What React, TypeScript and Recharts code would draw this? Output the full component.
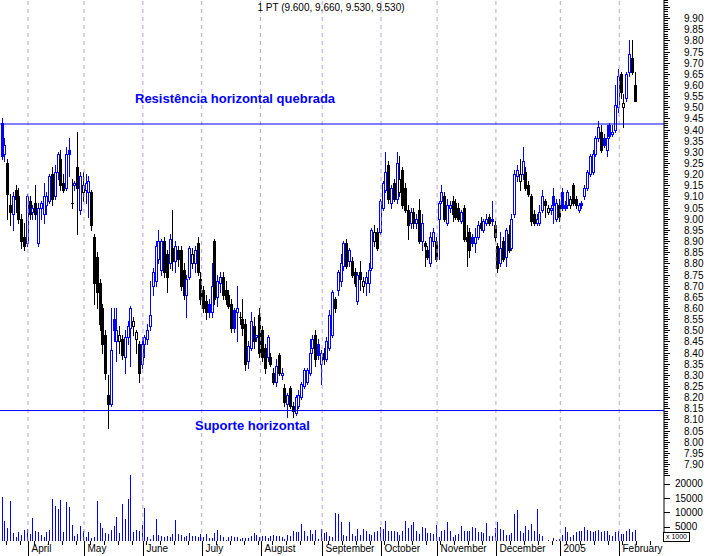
import React from "react";
import { ComposedChart, Bar, XAxis, YAxis, ReferenceLine } from "recharts";

// open, high, low, close
type Candle = [number, number, number, number];

const march: Candle[] = [
  [9.43, 9.45, 9.27, 9.28], [9.29, 9.36, 9.26, 9.33], [9.25, 9.27, 9.0, 9.11], [9.06, 9.11, 8.97, 9.03],
  [9.02, 9.12, 8.95, 9.1], [9.13, 9.15, 9.03, 9.09], [9.1, 9.14, 8.98, 9.0], [9.0, 9.02, 8.87, 8.9],
  [8.92, 8.98, 8.86, 8.88], [8.89, 9.11, 8.88, 9.1],
];
const april: Candle[] = [
  [9.08, 9.1, 9.0, 9.02], [9.03, 9.06, 9.0, 9.05], [9.07, 9.15, 9.0, 9.02], [8.89, 9.07, 8.88, 9.05],
  [9.05, 9.08, 9.0, 9.07], [9.02, 9.16, 8.98, 9.1], [9.06, 9.12, 9.02, 9.1], [9.08, 9.2, 9.07, 9.19],
  [9.2, 9.23, 9.06, 9.09], [9.1, 9.24, 9.09, 9.21], [9.21, 9.3, 9.18, 9.29], [9.27, 9.31, 9.13, 9.15],
  [9.16, 9.2, 9.12, 9.13], [9.14, 9.32, 9.13, 9.29], [9.31, 9.36, 9.19, 9.29], [9.07, 9.18, 9.05, 9.07],
  [9.15, 9.17, 9.13, 9.16], [9.23, 9.39, 8.93, 9.14], [9.04, 9.21, 9.02, 9.19], [9.12, 9.21, 9.08, 9.15],
];
const may: Candle[] = [
  [9.13, 9.2, 9.07, 9.16], [9.12, 9.19, 9.01, 9.17], [9.12, 9.13, 8.95, 8.97], [8.92, 8.93, 8.62, 8.71],
  [8.83, 8.85, 8.6, 8.67], [8.71, 8.73, 8.5, 8.53], [8.6, 8.62, 8.4, 8.44], [8.48, 8.5, 8.28, 8.31],
  [8.21, 8.3, 8.06, 8.17], [8.17, 8.6, 8.16, 8.41], [8.55, 8.6, 8.45, 8.5], [8.45, 8.6, 8.36, 8.5],
  [8.45, 8.52, 8.4, 8.48], [8.46, 8.48, 8.37, 8.39], [8.38, 8.5, 8.31, 8.47], [8.47, 8.54, 8.44, 8.52],
  [8.51, 8.61, 8.34, 8.6], [8.52, 8.56, 8.48, 8.54], [8.46, 8.5, 8.4, 8.49], [8.44, 8.45, 8.27, 8.31],
  [8.35, 8.47, 8.33, 8.44],
];
const june: Candle[] = [
  [8.44, 8.48, 8.38, 8.47], [8.46, 8.53, 8.44, 8.5], [8.52, 8.72, 8.5, 8.57], [8.7, 8.78, 8.66, 8.76],
  [8.72, 8.9, 8.7, 8.88], [8.82, 8.95, 8.8, 8.9], [8.77, 8.91, 8.75, 8.9], [8.9, 8.92, 8.74, 8.76],
  [8.84, 8.86, 8.67, 8.74], [8.8, 8.93, 8.78, 8.91], [8.87, 9.04, 8.77, 8.81], [8.81, 8.9, 8.76, 8.88],
  [8.86, 8.88, 8.79, 8.82], [8.86, 8.88, 8.68, 8.7], [8.77, 8.8, 8.64, 8.66], [8.66, 8.75, 8.56, 8.73],
  [8.74, 8.88, 8.73, 8.87], [8.8, 8.87, 8.78, 8.84], [8.8, 8.88, 8.76, 8.86], [8.89, 8.92, 8.75, 8.76],
  [8.73, 8.76, 8.62, 8.64],
];
const july: Candle[] = [
  [8.68, 8.7, 8.58, 8.6], [8.63, 8.66, 8.55, 8.58], [8.62, 8.64, 8.56, 8.58], [8.58, 8.8, 8.56, 8.7],
  [8.9, 8.91, 8.62, 8.64], [8.65, 8.75, 8.61, 8.72], [8.71, 8.76, 8.67, 8.74], [8.74, 8.76, 8.64, 8.66],
  [8.68, 8.72, 8.62, 8.64], [8.66, 8.68, 8.6, 8.61], [8.62, 8.64, 8.49, 8.51], [8.59, 8.6, 8.49, 8.51],
  [8.58, 8.7, 8.45, 8.6], [8.56, 8.58, 8.53, 8.56], [8.55, 8.64, 8.48, 8.51], [8.53, 8.55, 8.32, 8.35],
  [8.36, 8.45, 8.33, 8.43], [8.42, 8.58, 8.41, 8.54], [8.52, 8.56, 8.42, 8.45], [8.47, 8.48, 8.45, 8.48],
  [8.57, 8.6, 8.38, 8.4],
];
const august: Candle[] = [
  [8.5, 8.52, 8.36, 8.38], [8.42, 8.44, 8.31, 8.33], [8.38, 8.48, 8.36, 8.47], [8.38, 8.4, 8.34, 8.35],
  [8.31, 8.33, 8.26, 8.27], [8.27, 8.37, 8.25, 8.34], [8.39, 8.4, 8.3, 8.31], [8.3, 8.33, 8.28, 8.31],
  [8.24, 8.26, 8.16, 8.18], [8.17, 8.22, 8.11, 8.21], [8.24, 8.25, 8.15, 8.16], [8.16, 8.18, 8.11, 8.14],
  [8.13, 8.21, 8.12, 8.2], [8.16, 8.23, 8.15, 8.21], [8.2, 8.27, 8.19, 8.26], [8.25, 8.33, 8.24, 8.32],
  [8.27, 8.33, 8.26, 8.32], [8.31, 8.46, 8.3, 8.4], [8.42, 8.48, 8.4, 8.46], [8.48, 8.5, 8.34, 8.37],
  [8.44, 8.46, 8.37, 8.39], [8.35, 8.41, 8.26, 8.4],
];
const september: Candle[] = [
  [8.4, 8.42, 8.35, 8.37], [8.37, 8.47, 8.36, 8.45], [8.42, 8.59, 8.41, 8.57], [8.48, 8.68, 8.47, 8.67],
  [8.64, 8.65, 8.58, 8.6], [8.68, 8.77, 8.66, 8.76], [8.72, 8.84, 8.7, 8.8], [8.79, 8.9, 8.77, 8.89],
  [8.89, 8.91, 8.78, 8.79], [8.81, 8.87, 8.79, 8.86], [8.81, 8.83, 8.74, 8.75], [8.76, 8.78, 8.7, 8.71],
  [8.63, 8.76, 8.62, 8.75], [8.76, 8.81, 8.68, 8.73], [8.7, 8.74, 8.67, 8.72], [8.71, 8.76, 8.66, 8.74],
  [8.71, 8.8, 8.67, 8.77], [8.78, 8.96, 8.77, 8.95], [8.9, 8.97, 8.88, 8.94], [8.94, 8.96, 8.86, 8.87],
  [8.94, 9.09, 8.93, 9.08],
];
const october: Candle[] = [
  [9.05, 9.17, 9.04, 9.16], [9.13, 9.3, 9.12, 9.21], [9.24, 9.26, 9.07, 9.09], [9.07, 9.15, 9.05, 9.14],
  [9.16, 9.18, 9.08, 9.09], [9.09, 9.3, 9.07, 9.25], [9.12, 9.28, 9.1, 9.18], [9.22, 9.23, 9.05, 9.06],
  [9.14, 9.16, 9.03, 9.04], [9.04, 9.06, 8.91, 8.97], [8.98, 9.05, 8.96, 9.03], [9.03, 9.05, 8.96, 8.98],
  [8.98, 9.02, 8.96, 9.0], [9.04, 9.09, 8.89, 8.9], [8.9, 9.02, 8.86, 8.98], [8.89, 8.9, 8.79, 8.88],
  [8.86, 8.88, 8.82, 8.83], [8.8, 8.94, 8.79, 8.92], [8.9, 8.96, 8.88, 8.94], [8.9, 8.92, 8.81, 8.82],
];
const november: Candle[] = [
  [9.0, 9.08, 8.82, 9.07], [9.08, 9.15, 9.07, 9.12], [9.1, 9.12, 8.99, 9.0], [8.98, 9.09, 8.97, 9.06],
  [9.05, 9.08, 9.03, 9.06], [9.08, 9.1, 8.99, 9.02], [9.07, 9.09, 9.0, 9.01], [9.05, 9.07, 8.99, 9.0],
  [8.99, 9.04, 8.98, 9.03], [9.05, 9.06, 8.9, 8.91], [8.92, 8.97, 8.79, 8.9], [8.94, 8.96, 8.83, 8.86],
  [8.92, 8.93, 8.88, 8.89], [8.89, 8.96, 8.85, 8.92], [8.92, 8.99, 8.91, 8.97], [8.98, 9.01, 8.95, 8.96],
  [8.95, 9.0, 8.94, 8.99], [8.98, 9.02, 8.97, 9.0], [9.01, 9.02, 8.97, 8.98], [9.0, 9.08, 8.97, 8.99],
  [8.97, 8.99, 8.9, 8.92],
];
const december: Candle[] = [
  [8.88, 8.89, 8.76, 8.78], [8.8, 8.94, 8.79, 8.87], [8.9, 8.92, 8.81, 8.82], [8.83, 8.96, 8.79, 8.95],
  [8.93, 8.97, 8.85, 8.86], [8.87, 9.02, 8.86, 9.0], [9.02, 9.22, 9.01, 9.2], [9.19, 9.24, 9.17, 9.22],
  [9.17, 9.27, 9.13, 9.2], [9.2, 9.32, 9.18, 9.26], [9.21, 9.23, 9.13, 9.14], [9.15, 9.17, 9.1, 9.11],
  [9.1, 9.11, 8.97, 8.99], [9.02, 9.04, 8.97, 8.98], [8.98, 9.02, 8.97, 9.0], [8.98, 9.06, 8.97, 9.03],
  [9.04, 9.13, 9.03, 9.1], [9.08, 9.09, 9.01, 9.06], [9.03, 9.06, 9.02, 9.05], [9.04, 9.06, 9.02, 9.05],
  [9.1, 9.14, 8.98, 9.06], [9.0, 9.09, 8.99, 9.07], [9.06, 9.09, 8.99, 9.01],
];
const january: Candle[] = [
  [9.12, 9.14, 9.04, 9.05], [9.06, 9.08, 9.04, 9.05], [9.06, 9.13, 9.05, 9.12], [9.06, 9.1, 9.05, 9.09],
  [9.15, 9.16, 9.06, 9.07], [9.09, 9.1, 9.05, 9.06], [9.04, 9.07, 9.03, 9.06], [9.07, 9.08, 9.05, 9.06],
  [9.1, 9.15, 9.09, 9.14], [9.14, 9.22, 9.13, 9.21], [9.2, 9.29, 9.19, 9.28], [9.21, 9.31, 9.2, 9.29],
  [9.29, 9.37, 9.28, 9.36], [9.36, 9.44, 9.35, 9.41], [9.39, 9.42, 9.3, 9.31], [9.36, 9.38, 9.32, 9.33],
  [9.31, 9.42, 9.28, 9.36], [9.42, 9.43, 9.36, 9.37], [9.38, 9.42, 9.37, 9.39], [9.4, 9.6, 9.39, 9.51],
  [9.5, 9.67, 9.48, 9.64],
];
const february: Candle[] = [
  [9.65, 9.66, 9.54, 9.57], [9.5, 9.56, 9.41, 9.52], [9.54, 9.66, 9.53, 9.65], [9.66, 9.8, 9.64, 9.74],
  [9.72, 9.8, 9.65, 9.66], [9.6, 9.66, 9.53, 9.53],
];

// volume, thousands of shares
const marchVol = [15.4, 7.0, 4.7, 14.0, 2.9, 1.4, 3.2, 2.1, 3.9, 4.3];
const aprilVol = [2.6, 8.1, 3.5, 3.2, 2.1, 1.4, 3.2, 3.9, 14.7, 12.4, 11.2, 14.4, 3.2, 13.7, 11.9, 5.6, 1.8, 2.6, 5.3, 3.5];
const mayVol = [1.4, 3.2, 1.2, 1.4, 14.0, 6.3, 4.6, 2.8, 2.6, 3.7, 5.3, 8.4, 2.8, 13.0, 7.8, 14.7, 23.2, 3.2, 3.9, 3.5, 5.6];
const juneVol = [11.6, 1.4, 0.7, 2.1, 7.7, 2.1, 1.8, 1.4, 1.8, 1.4, 2.5, 7.4, 2.5, 2.1, 1.4, 1.8, 2.8, 1.8, 1.8, 1.4, 2.5];
const julyVol = [1.4, 2.5, 1.1, 1.1, 2.8, 3.9, 2.1, 1.4, 0.4, 1.4, 1.8, 1.4, 1.4, 0.7, 1.1, 1.1, 1.1, 1.8, 2.8, 2.1, 1.4];
const augustVol = [1.8, 1.8, 1.1, 1.8, 2.1, 1.8, 1.8, 1.4, 0.7, 2.1, 1.8, 3.5, 3.2, 3.2, 6.0, 3.5, 1.8, 3.9, 2.5, 3.9, 0.7, 4.2];
const septemberVol = [2.8, 3.2, 1.8, 1.4, 9.8, 9.5, 6.7, 2.1, 1.8, 6.7, 2.5, 1.8, 4.2, 2.1, 4.2, 3.5, 2.5, 2.1, 3.2, 3.5, 4.9];
const octoberVol = [4.2, 7.0, 3.5, 3.5, 3.5, 3.2, 2.1, 3.5, 7.0, 4.6, 5.6, 6.7, 3.5, 2.5, 4.9, 4.6, 2.8, 2.8, 2.5, 5.6];
const novemberVol = [1.4, 3.5, 3.9, 6.7, 3.5, 1.4, 2.1, 2.5, 5.3, 3.5, 3.5, 3.5, 4.9, 4.6, 3.2, 3.2, 2.8, 6.3, 1.8, 1.8, 4.6];
const decemberVol = [6.7, 4.2, 3.9, 2.1, 2.1, 2.8, 9.5, 10.9, 3.5, 2.8, 5.3, 3.9, 6.0, 3.5, 11.2, 2.5, 1.8, 0.1, 0.4, 0.1, 1.1, 0.4, 0.7];
const januaryVol = [2.1, 4.9, 3.2, 1.4, 2.1, 3.2, 3.5, 3.5, 4.9, 3.9, 3.5, 3.2, 3.5, 3.9, 3.2, 3.5, 3.5, 2.1, 1.8, 3.2, 3.5];
const februaryVol = [2.5, 2.5, 3.5, 4.2, 3.2, 3.9];

const monthLabels = ["", "April", "May", "June", "July", "August", "September", "October", "November", "December", "2005", "February"];
const candleMonths = [march, april, may, june, july, august, september, october, november, december, january, february];
const volumeMonths = [marchVol, aprilVol, mayVol, juneVol, julyVol, augustVol, septemberVol, octoberVol, novemberVol, decemberVol, januaryVol, februaryVol];

const resistance = 9.425;
const support = 8.14;
const lastQuote = "1 PT (9.600, 9.660, 9.530, 9.530)";
const volumeTicks = [5000, 10000, 15000, 20000];
const EMPTY_SLOTS = 10;

type Row = { i: number; o?: number; h?: number; l?: number; c?: number; pc?: number; v?: number };

const rows: Row[] = [];
const monthStarts: number[] = [];
candleMonths.forEach((list, m) => {
  monthStarts.push(rows.length);
  list.forEach((k, j) => {
    const prev = rows.length ? rows[rows.length - 1].c : undefined;
    rows.push({ i: rows.length, o: k[0], h: k[1], l: k[2], c: k[3], pc: prev, v: volumeMonths[m][j] * 1000 });
  });
});
for (let n = 0; n < EMPTY_SLOTS; n++) rows.push({ i: rows.length });

const weekTicks = rows.filter((r) => r.i % 5 === 2).map((r) => r.i);
const xTicks = Array.from(new Set([...monthStarts.slice(1), ...weekTicks])).sort((a, b) => a - b);

const priceTicks: number[] = [];
for (let k = 785; k <= 998; k++) priceTicks.push(k / 100);

const BLUE = "#0000ff";
const FONT = "'Liberation Sans', Arial, sans-serif";
const W = 707;
const H = 556;
const AXIS_X = 664;
const AXIS_Y = 541;
const HALF_SLOT = 664 / 237 / 2;

function CandleShape(props: any) {
  const { x, y, width, height, payload } = props;
  if (!payload || payload.o == null) return <g />;
  const { o, h, l, c, pc } = payload;
  const top0 = Math.min(y, y + height);
  const hh = Math.abs(height);
  const span = h - l;
  const py = (v: number) => (span > 0 ? top0 + ((h - v) / span) * hh : top0);
  const color = pc == null || c >= pc ? BLUE : "#000";
  const R = Math.round(x + width / 2);
  const top = Math.round(py(Math.max(o, c)));
  const bot = Math.round(py(Math.min(o, c)));
  let body;
  if (bot - top < 2) {
    body = <line x1={R - 1} x2={R + 2} y1={top + 0.5} y2={top + 0.5} stroke={color} />;
  } else if (c < o) {
    body = <rect x={R - 1} y={top} width={3} height={bot - top + 1} fill={color} />;
  } else {
    body = <rect x={R - 0.5} y={top + 0.5} width={2} height={bot - top} fill="#fff" stroke={color} />;
  }
  return (
    <g shapeRendering="crispEdges">
      <line x1={R + 0.5} x2={R + 0.5} y1={Math.round(py(h))} y2={Math.round(py(l)) + 1} stroke={color} />
      {body}
    </g>
  );
}

function VolumeShape(props: any) {
  const { x, y, width, height } = props;
  if (!height || Math.abs(height) < 0.2) return <g />;
  const top = Math.round(Math.min(y, y + height));
  const R = Math.round(x + width / 2);
  return <rect x={R} y={top} width={1} height={AXIS_Y - top} fill={BLUE} shapeRendering="crispEdges" />;
}

function PriceTick(props: any) {
  const { y, payload } = props;
  const v = payload.value as number;
  const major = Math.round(v * 100) % 5 === 0;
  const label = major && v > 7.895 && v < 9.905;
  const Y = Math.round(y) + 0.5;
  return (
    <g>
      <line x1={AXIS_X} x2={AXIS_X + (major ? 6 : 4)} y1={Y} y2={Y} stroke="#000" shapeRendering="crispEdges" />
      {label && (
        <text x={684} y={y + 4} fontSize={10} fontFamily={FONT} fill="#000">
          {v.toFixed(2)}
        </text>
      )}
    </g>
  );
}

function VolumeLabel(props: any) {
  const { viewBox, value } = props;
  const y = viewBox ? viewBox.y : 0;
  const Y = Math.round(y) + 0.5;
  return (
    <g>
      <line x1={AXIS_X} x2={AXIS_X + 6} y1={Y} y2={Y} stroke="#000" shapeRendering="crispEdges" />
      <text x={675} y={y + 3.5} fontSize={10} fontFamily={FONT} fill="#000">
        {value}
      </text>
    </g>
  );
}

function DateTick(props: any) {
  const { x, payload } = props;
  const idx = payload.value as number;
  const m = monthStarts.indexOf(idx);
  const X = Math.round(x - HALF_SLOT) + 0.5;
  if (m > 0) {
    return (
      <g>
        <line x1={X} x2={X} y1={AXIS_Y} y2={H} stroke="#000" shapeRendering="crispEdges" />
        <text x={X + 3} y={552} fontSize={10} fontFamily={FONT} fill="#000">
          {monthLabels[m]}
        </text>
      </g>
    );
  }
  return <line x1={X} x2={X} y1={AXIS_Y} y2={AXIS_Y + 4} stroke="#000" shapeRendering="crispEdges" />;
}

export default function App() {
  return (
    <div style={{ position: "absolute", left: 0, top: 0, width: W, height: H, background: "#fff", fontFamily: FONT }}>
      <ComposedChart width={W} height={H} data={rows} margin={{ top: 0, right: 0, left: 0, bottom: 0 }} barCategoryGap={0} barGap={0}>
        <XAxis xAxisId="x" dataKey="i" type="category" height={15} ticks={xTicks} interval={0}
          tickSize={0} tickMargin={0} tick={(p: any) => <DateTick {...p} />} axisLine={{ stroke: "#000" }} tickLine={false} />
        <XAxis xAxisId="vx" dataKey="i" type="category" hide />
        <YAxis yAxisId="v" orientation="right" width={0} type="number" domain={[0, 189800]} allowDataOverflow hide />
        <YAxis yAxisId="p" orientation="right" width={43} type="number" domain={[7.555, 9.981]} allowDataOverflow
          ticks={priceTicks} interval={0} tickSize={0} tickMargin={0} axisLine={{ stroke: "#000" }} tickLine={false}
          tick={(p: any) => <PriceTick {...p} />} />
        {monthStarts.slice(1).map((s) => (
          <ReferenceLine key={s} xAxisId="x" yAxisId="p" x={s} position="start" stroke="#b9a3cf" strokeDasharray="4 4" />
        ))}
        <ReferenceLine xAxisId="x" yAxisId="p" y={resistance} stroke={BLUE} />
        <ReferenceLine xAxisId="x" yAxisId="p" y={support} stroke={BLUE} />
        {volumeTicks.map((t) => (
          <ReferenceLine key={t} xAxisId="vx" yAxisId="v" y={t} stroke="none" ifOverflow="visible"
            label={(p: any) => <VolumeLabel {...p} value={t} />} />
        ))}
        <Bar xAxisId="vx" yAxisId="v" dataKey="v" shape={(p: any) => <VolumeShape {...p} />} isAnimationActive={false} />
        <Bar xAxisId="x" yAxisId="p" dataKey={(d: Row) => (d.o == null ? null : [d.l, d.h])}
          shape={(p: any) => <CandleShape {...p} />} isAnimationActive={false} />
      </ComposedChart>
      <div style={{ position: "absolute", left: 0, width: 662, top: 2, textAlign: "center", fontSize: 10, lineHeight: "12px", color: "#000" }}>
        {lastQuote}
      </div>
      <div style={{ position: "absolute", left: 135, top: 91, fontSize: 13, fontWeight: "bold", color: BLUE, lineHeight: "15px", whiteSpace: "nowrap" }}>
        Resistência horizontal quebrada
      </div>
      <div style={{ position: "absolute", left: 195, top: 418, fontSize: 13, fontWeight: "bold", color: BLUE, lineHeight: "15px", whiteSpace: "nowrap" }}>
        Suporte horizontal
      </div>
      <div style={{ position: "absolute", left: 663, top: 532, width: 25, height: 8, border: "1px solid #000", fontSize: 7, lineHeight: "8px", textAlign: "center", background: "#fff", color: "#000" }}>
        x 1000
      </div>
    </div>
  );
}
